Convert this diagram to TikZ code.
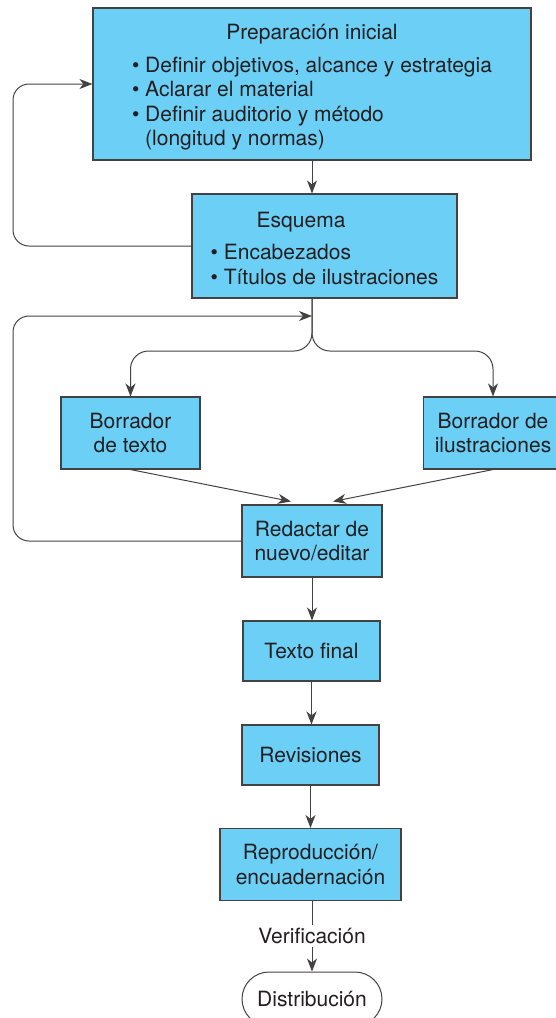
\documentclass[tikz,border=0pt]{standalone}
\usepackage{fontspec}
\setmainfont{TeX Gyre Heros}
\usepackage{xcolor}
\usetikzlibrary{arrows.meta, shapes.misc}
\definecolor{boxblue}{HTML}{6BCFF6}
\definecolor{ink}{HTML}{231F20}
\tikzset{stagebox/.style={draw=ink!85, line width=1.1pt, fill=boxblue, text=ink, inner sep=0pt, align=center, font=\fontsize{21}{24.5}\selectfont}}
\tikzset{endcap/.style={draw=ink!85, line width=1pt, rounded rectangle, fill=white, text=ink, inner sep=0pt, font=\fontsize{21}{24.5}\selectfont}}
\tikzset{flow/.style={draw=ink!85, line width=1pt, -{Stealth[length=13pt, width=10pt, inset=4pt]}}}
\newcommand{\itembul}{\textbullet\ }

\begin{document}
\begin{tikzpicture}[x=1pt, y=-1pt]
\useasboundingbox (0,0) rectangle (556,1018);
% planning stages
\node[stagebox, minimum width=438, minimum height=152] (prep) at (312,84) {\raisebox{-4pt}[\height][\depth]{\begin{tabular}{@{}l@{}}
\multicolumn{1}{@{}c@{}}{Preparación inicial}\\[8pt]
\itembul Definir objetivos, alcance y estrategia\\
\itembul Aclarar el material\\
\itembul Definir auditorio y método\\
\phantom{\itembul}(longitud y normas)
\end{tabular}}};
\node[stagebox, minimum width=265, minimum height=104] (esq) at (324.5,246) {\raisebox{-5pt}[\height][\depth]{\begin{tabular}{@{}l@{}}
\multicolumn{1}{@{\hspace{46pt}}l@{}}{Esquema}\\[8pt]
\itembul Encabezados\\
\itembul Títulos de ilustraciones
\end{tabular}}};
% drafts
\node[stagebox, minimum width=139, minimum height=72] (btexto) at (130.5,433) {Borrador\\de texto};
\node[stagebox, minimum width=139, minimum height=72] (bilus) at (493,433) {Borrador de\\ilustraciones};
% final stages
\node[stagebox, minimum width=140, minimum height=72] (red) at (312,541) {Redactar de\\nuevo/editar};
\node[stagebox, minimum width=137, minimum height=60] (tf) at (311.5,651) {Texto final};
\node[stagebox, minimum width=137, minimum height=60] (rev) at (310.5,755) {Revisiones};
\node[stagebox, minimum width=181, minimum height=72] (repro) at (310.5,864.5) {Reproducción/\\encuadernación};
\node[endcap, minimum width=140, minimum height=54] (dist) at (312,999) {Distribución};
% connectors
\coordinate (rail) at (13,0);
\coordinate (merge) at (312,316);
\coordinate (fork) at (esq.south -| prep.south);
\coordinate (branch) at (312,351);
\draw[flow] (prep.south) -- (prep.south |- esq.north);
\draw[flow, rounded corners=16pt] (esq.west) -- (esq.west -| rail) -- (prep.west -| rail) -- (prep.west);
\draw[flow, rounded corners=16pt] (red.west) -- (red.west -| rail) -- (merge -| rail) -- (merge);
\draw[flow, rounded corners=18pt] (fork) -- (branch) -| (btexto.north);
\draw[flow, rounded corners=18pt] (fork) -- (branch) -| (bilus.north);
\draw[flow] (btexto.south) -- ([xshift=-21pt, yshift=3pt]red.north);
\draw[flow] (bilus.south) -- ([xshift=21pt, yshift=3pt]red.north);
\draw[flow] (red.south) -- (red.south |- tf.north);
\draw[flow] (tf.south) -- (tf.south |- rev.north);
\draw[flow] (rev.south) -- (rev.south |- repro.north);
\draw[flow] (repro.south -| dist.north) -- node[fill=white, text=ink, inner sep=3pt, font=\fontsize{21}{24.5}\selectfont] (verif) {Verificación} (dist.north);
\end{tikzpicture}
\end{document}
